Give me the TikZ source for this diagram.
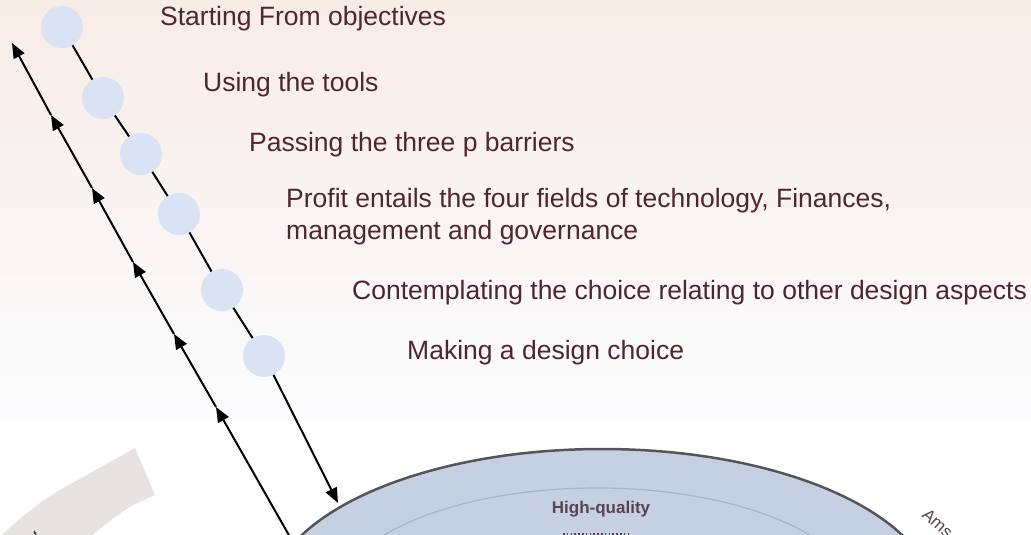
\documentclass[tikz,border=0pt]{standalone}
\usepackage{fontspec}
\setmainfont{Liberation Sans}
\usetikzlibrary{arrows.meta}
\definecolor{txt}{RGB}{80,38,45}
\definecolor{bgtop}{RGB}{248,236,230}
\definecolor{bgbot}{RGB}{251,252,254}
\definecolor{dotfill}{RGB}{218,227,243}
\definecolor{domefill}{RGB}{197,209,227}
\definecolor{domeline}{RGB}{85,85,88}
\definecolor{innerline}{RGB}{165,180,202}
\definecolor{band}{RGB}{230,227,226}
\definecolor{domtxt}{RGB}{92,66,80}
\begin{document}
\begin{tikzpicture}[x=1pt,y=-1pt,
  dot/.style={circle,fill=dotfill,draw=none,minimum size=42pt,inner sep=0pt},
  lbl/.style={anchor=base west,inner sep=0pt,text=txt,font=\fontsize{26.5}{32}\selectfont,align=left},
  conn/.style={line width=2pt,black},
  arr/.style={conn,-{Triangle[length=15pt,width=12pt]}}]
\useasboundingbox (0,0) rectangle (1031,535);
\clip (0,0) rectangle (1031,535);

% background wash
\shade[top color=bgtop,bottom color=bgbot] (0,0) rectangle (1031,420);

% grey band at the lower left
\fill[band] (135,448) -- (155,495) .. controls (128,507) .. (92,535)
  -- (2,535) .. controls (22,516) and (40,502) .. (58,491) -- cycle;
\node[font=\fontsize{10}{12}\selectfont,rotate=35,inner sep=0pt] (frag) at (36,535) {f};

% dome
\filldraw[fill=domefill,draw=domeline,line width=2.5pt] (602,601) ellipse [x radius=333pt,y radius=152pt];
\draw[innerline,line width=1.2pt] (597,601) ellipse [x radius=262pt,y radius=113pt];
\node[font=\bfseries\fontsize{17}{20}\selectfont,text=domtxt] (hq) at (601,509) {High-quality};
\draw[domtxt,line width=3pt,dash pattern=on 1.6pt off 2.2pt] (563,534.5) -- (630,534.5);
\node[font=\fontsize{17}{20}\selectfont,text=domtxt,rotate=-42,anchor=base west,inner sep=0pt] (ams) at (921,516) {Ams};

% step circles
\node[dot] (c1) at (62,27) {};
\node[dot] (c2) at (103,98) {};
\node[dot] (c3) at (141,154) {};
\node[dot] (c4) at (179,214) {};
\node[dot] (c5) at (222,290) {};
\node[dot] (c6) at (264,356) {};
\coordinate (rEnd) at (338,503);

\draw[conn] (c1) -- (c2);
\draw[conn] (c2) -- (c3);
\draw[conn] (c3) -- (c4);
\draw[conn] (c4) -- (c5);
\draw[conn] (c5) -- (c6);
\draw[arr] (c6) -- (rEnd);

% returning line with arrowheads
\coordinate (l0) at (290,537);
\coordinate (l1) at (216,407);
\coordinate (l2) at (174,334);
\coordinate (l3) at (133,262);
\coordinate (l4) at (92,188);
\coordinate (l5) at (51,115);
\coordinate (l6) at (12,43);
\draw[arr] (l0) -- (l1);
\draw[arr] (l1) -- (l2);
\draw[arr] (l2) -- (l3);
\draw[arr] (l3) -- (l4);
\draw[arr] (l4) -- (l5);
\draw[arr] (l5) -- (l6);

% step labels
\node[lbl] (t1) at (160,26) {Starting From objectives};
\node[lbl] (t2) at (203,92) {Using the tools};
\node[lbl] (t3) at (249,151) {Passing the three p barriers};
\node[lbl] (t4) at (286,239) {Profit entails the four fields of technology, Finances,\\management and governance};
\node[lbl] (t5) at (352,299) {Contemplating the choice relating to other design aspects};
\node[lbl] (t6) at (407,359) {Making a design choice};
\end{tikzpicture}
\end{document}
